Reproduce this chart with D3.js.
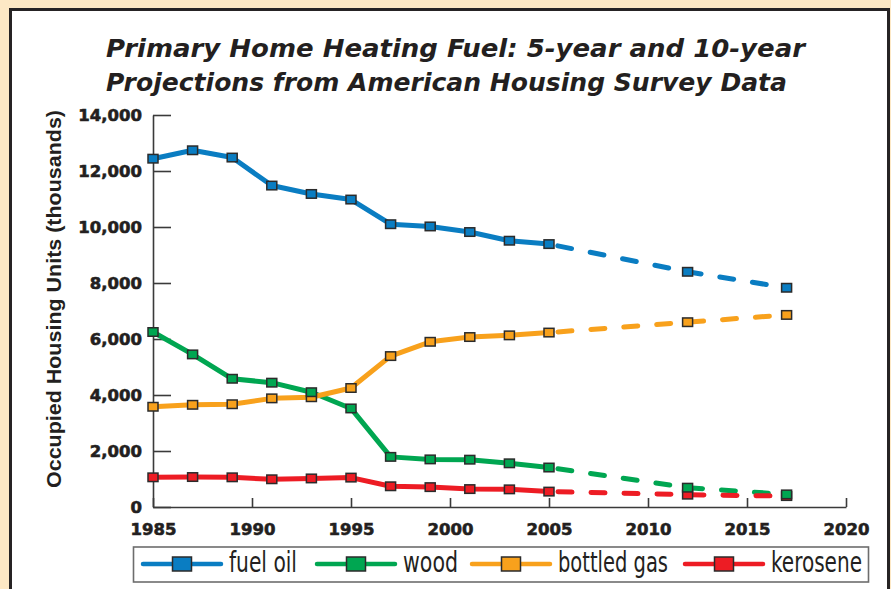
<!DOCTYPE html>
<html>
<head>
<meta charset="utf-8">
<script src="https://cdn.jsdelivr.net/npm/d3@7"></script>
<style>
  html, body { margin: 0; padding: 0; background: #fde8c5; }
  svg { display: block; }
</style>
</head>
<body>
<div class="container"></div>
<script>
// survey years (2012 and 2017 are projections)
const years = [1985, 1987, 1989, 1991, 1993, 1995, 1997, 1999, 2001, 2003, 2005, 2012, 2017];
const lastSurveyYear = 2005;

// occupied housing units, thousands
const fuelOil    = [12440, 12740, 12480, 11480, 11180, 10980, 10100, 10020, 9820, 9510, 9390, 8400, 7830];
const wood       = [6250, 5450, 4580, 4440, 4100, 3520, 1790, 1700, 1690, 1560, 1410, 690, 450];
const bottledGas = [3580, 3650, 3670, 3880, 3920, 4250, 5390, 5900, 6070, 6130, 6230, 6600, 6860];
const kerosene   = [1060, 1070, 1060, 990, 1020, 1050, 740, 710, 640, 630, 550, 440, 390];

const seriesNames = ["fuel oil", "wood", "bottled gas", "kerosene"];
const yTicks = [0, 2000, 4000, 6000, 8000, 10000, 12000, 14000];
const xTicks = [1985, 1990, 1995, 2000, 2005, 2010, 2015, 2020];

const titleLines = [
  "Primary Home Heating Fuel: 5-year and 10-year",
  "Projections from American Housing Survey Data"
];
const yLabel = "Occupied Housing Units (thousands)";

const WIDTH = 891, HEIGHT = 589;
const TEXT_COLOR = "#231f20";
const AXIS_COLOR = "#3a3a3a";
const COLORS = {
  "fuel oil": "#0a7dc2",
  "wood": "#00a651",
  "bottled gas": "#f8a11c",
  "kerosene": "#ed1c24"
};

const series = [
  { name: "fuel oil", values: fuelOil },
  { name: "wood", values: wood },
  { name: "bottled gas", values: bottledGas },
  { name: "kerosene", values: kerosene }
].map(s => ({
  name: s.name,
  points: years.map((yr, i) => ({ year: yr, value: s.values[i] }))
}));

const svg = d3.select(".container")
  .append("svg")
  .attr("xmlns", "http://www.w3.org/2000/svg")
  .attr("width", WIDTH)
  .attr("height", HEIGHT)
  .attr("viewBox", `0 0 ${WIDTH} ${HEIGHT}`);

// beige background + white panel with dark frame
svg.append("rect")
  .attr("width", WIDTH).attr("height", HEIGHT)
  .attr("fill", "#fde8c5");
svg.append("rect")
  .attr("x", 10.5).attr("y", 9.5)
  .attr("width", 878).attr("height", 600)
  .attr("fill", "#ffffff")
  .attr("stroke", "#262324")
  .attr("stroke-width", 3);

// title
const titleX = 106;
const titleWidths = [699, 681];
const titleBaselines = [57, 91];
titleLines.forEach((t, i) => {
  svg.append("text")
    .attr("x", titleX)
    .attr("y", titleBaselines[i])
    .attr("font-family", "'DejaVu Sans', sans-serif")
    .attr("font-weight", "bold")
    .attr("font-style", "italic")
    .attr("font-size", "25px")
    .attr("fill", TEXT_COLOR)
    .attr("textLength", titleWidths[i])
    .attr("lengthAdjust", "spacingAndGlyphs")
    .text(t);
});

// scales
const x = d3.scaleLinear().domain([1985, 2020]).range([153, 846]);
const y = d3.scaleLinear().domain([0, 14000]).range([507, 115]);

// y axis
const gy = svg.append("g")
  .attr("transform", `translate(${x(1985)},0)`)
  .call(d3.axisLeft(y)
    .tickValues(yTicks)
    .tickFormat(d3.format(","))
    .tickSize(-18)
    .tickSizeOuter(0)
    .tickPadding(11));
gy.select(".domain").attr("stroke", AXIS_COLOR).attr("stroke-width", 1.6);
gy.selectAll(".tick line").attr("stroke", AXIS_COLOR).attr("stroke-width", 1.6);
gy.selectAll(".tick text")
  .attr("font-family", "'DejaVu Sans', sans-serif")
  .attr("font-weight", "bold")
  .attr("font-size", "16.5px")
  .attr("fill", TEXT_COLOR)
  .attr("stroke", TEXT_COLOR)
  .attr("stroke-width", 0.6);

// x axis
const gx = svg.append("g")
  .attr("transform", `translate(0,${y(0)})`)
  .call(d3.axisBottom(x)
    .tickValues(xTicks)
    .tickFormat(d3.format("d"))
    .tickSize(-9)
    .tickSizeOuter(0)
    .tickPadding(16));
gx.select(".domain").attr("stroke", AXIS_COLOR).attr("stroke-width", 1.6);
gx.selectAll(".tick line").attr("stroke", AXIS_COLOR).attr("stroke-width", 1.6);
gx.selectAll(".tick text")
  .attr("font-family", "'DejaVu Sans', sans-serif")
  .attr("font-weight", "bold")
  .attr("font-size", "16.5px")
  .attr("fill", TEXT_COLOR)
  .attr("stroke", TEXT_COLOR)
  .attr("stroke-width", 0.6);

// y axis title
svg.append("text")
  .attr("transform", `translate(61,${(110 + 488) / 2}) rotate(-90)`)
  .attr("text-anchor", "middle")
  .attr("font-family", "'Liberation Sans', Arial, sans-serif")
  .attr("font-weight", "bold")
  .attr("font-size", "20px")
  .attr("fill", TEXT_COLOR)
  .attr("textLength", 378)
  .attr("lengthAdjust", "spacingAndGlyphs")
  .text(yLabel);

// lines: solid for survey data, dashed for projections
const line = d3.line()
  .x(d => x(d.year))
  .y(d => y(d.value));

series.forEach(s => {
  const solid = s.points.filter(d => d.year <= lastSurveyYear);
  const proj = s.points.filter(d => d.year >= lastSurveyYear);
  svg.append("path")
    .datum(solid)
    .attr("fill", "none")
    .attr("stroke", COLORS[s.name])
    .attr("stroke-width", 5)
    .attr("stroke-linejoin", "round")
    .attr("stroke-linecap", "round")
    .attr("d", line);
  svg.append("path")
    .datum(proj)
    .attr("fill", "none")
    .attr("stroke", COLORS[s.name])
    .attr("stroke-width", 5)
    .attr("stroke-linecap", "round")
    .attr("stroke-dasharray", "14,19")
    .attr("stroke-dashoffset", -9)
    .attr("d", line);
});

// markers (kerosene first so wood sits on top near the end)
const markerOrder = ["kerosene", "bottled gas", "fuel oil", "wood"];
const MW = 10, MH = 8.5;
markerOrder.forEach(name => {
  const s = series.find(d => d.name === name);
  svg.append("g")
    .selectAll("rect")
    .data(s.points)
    .enter()
    .append("rect")
    .attr("x", d => x(d.year) - MW / 2)
    .attr("y", d => y(d.value) - MH / 2)
    .attr("width", MW)
    .attr("height", MH)
    .attr("fill", COLORS[name])
    .attr("stroke", "#2b2b2b")
    .attr("stroke-width", 1.5);
});

// legend
svg.append("rect")
  .attr("x", 133.5).attr("y", 547)
  .attr("width", 735).attr("height", 35)
  .attr("fill", "#ffffff")
  .attr("stroke", "#6d6d6d")
  .attr("stroke-width", 1.6);

const legendStarts = [143, 317, 472, 685];
const legendTextWidths = [68, 55, 110, 91];
const legendY = 564;
seriesNames.forEach((name, i) => {
  const g = svg.append("g").attr("transform", `translate(${legendStarts[i]},${legendY})`);
  g.append("line")
    .attr("x1", 0).attr("x2", 78)
    .attr("y1", 0).attr("y2", 0)
    .attr("stroke", COLORS[name])
    .attr("stroke-width", 4.5)
    .attr("stroke-linecap", "round");
  g.append("rect")
    .attr("x", 39 - 9.5).attr("y", -7)
    .attr("width", 19).attr("height", 14)
    .attr("fill", COLORS[name])
    .attr("stroke", "#2b2b2b")
    .attr("stroke-width", 1.5);
  g.append("text")
    .attr("x", 86)
    .attr("y", 8)
    .attr("font-family", "'Liberation Sans Narrow', 'DejaVu Sans Condensed', sans-serif")
    .attr("font-size", "28px")
    .attr("fill", TEXT_COLOR)
    .attr("textLength", legendTextWidths[i])
    .attr("lengthAdjust", "spacingAndGlyphs")
    .text(name);
});
</script>
</body>
</html>
